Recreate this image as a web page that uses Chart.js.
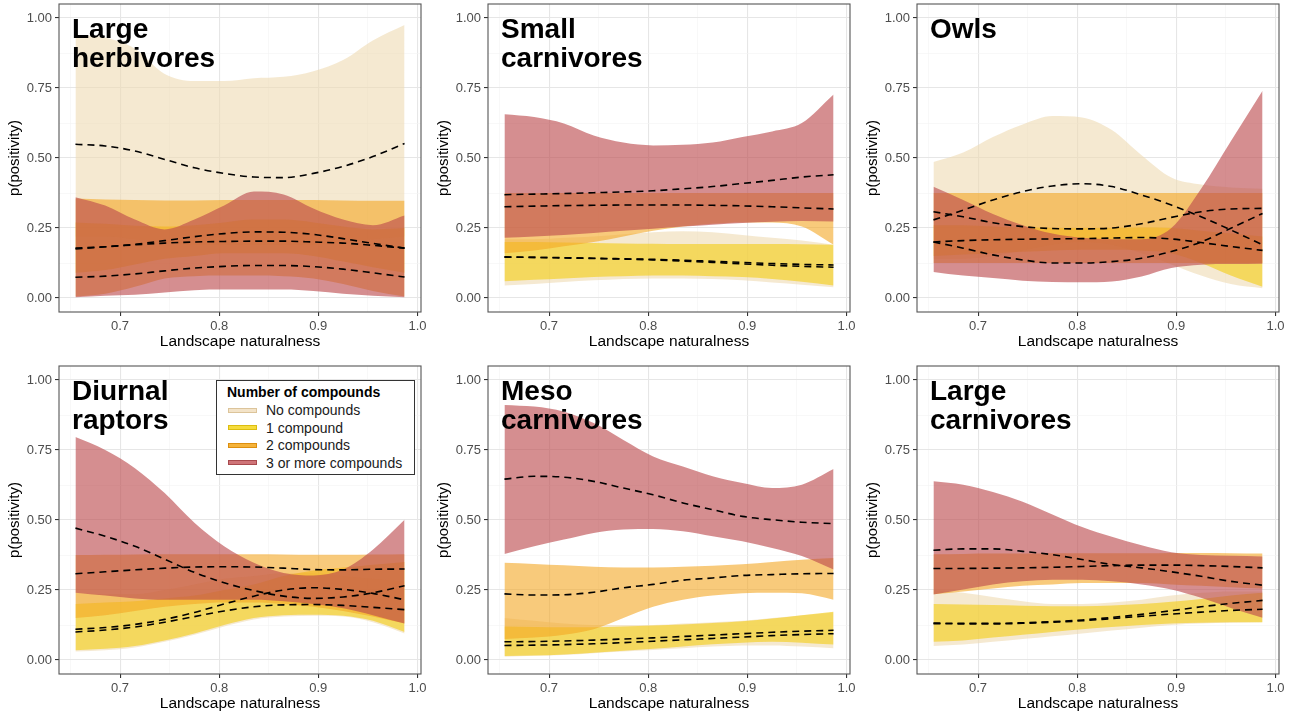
<!DOCTYPE html>
<html>
<head>
<meta charset="utf-8">
<script src="https://cdn.jsdelivr.net/npm/chart.js@4.4.1/dist/chart.umd.min.js"></script>
<style>
  html, body { margin: 0; padding: 0; background: #ffffff; }
  #wrap { position: relative; width: 1295px; height: 715px; overflow: hidden;
          font-family: "Liberation Sans", Arial, Helvetica, sans-serif; }
  .panel { position: absolute; width: 430px; height: 358px; }
  .panel canvas { position: absolute; left: 0; top: 0; }
  .ptitle { position: absolute; font-weight: bold; font-size: 28px; line-height: 29px;
            color: #000; white-space: nowrap; z-index: 2; }
  .legend { position: absolute; box-sizing: border-box; border: 1.3px solid #333;
            background: #fff; z-index: 3; }
  .legend .ltitle { position: absolute; left: 10px; top: 3px; font-weight: bold;
                    font-size: 14px; line-height: 16px; color: #000; white-space: nowrap; }
  .legend .lkey { position: absolute; left: 11px; width: 29px; height: 5px; box-sizing: border-box; }
  .legend .ltext { position: absolute; left: 49px; font-size: 14px; line-height: 16px;
                   color: #1a1a1a; white-space: nowrap; }
</style>
</head>
<body>
<div id="wrap"></div>
<script>
// Sampled landscape naturalness values (x) shared by all fitted curves
const naturalness = [0.655, 0.685, 0.715, 0.745, 0.775, 0.805, 0.835, 0.865, 0.895, 0.925, 0.955, 0.987];

const compoundGroups = ['No compounds', '1 compound', '2 compounds', '3 or more compounds'];

const xTickValues = [0.65, 0.70, 0.75, 0.80, 0.85, 0.90, 0.95, 1.00];
const xTickLabels = ['', '0.7', '', '0.8', '', '0.9', '', '1.0'];
const yTickValues = [0, 0.125, 0.25, 0.375, 0.5, 0.625, 0.75, 0.875, 1];
const yTickLabels = ['0.00', '', '0.25', '', '0.50', '', '0.75', '', '1.00'];

// Large herbivores
const lhNoneLo  = [0.22, 0.22, 0.21, 0.20, 0.19, 0.19, 0.19, 0.19, 0.19, 0.20, 0.21, 0.22];
const lhNoneHi  = [0.94, 0.93, 0.89, 0.80, 0.775, 0.775, 0.785, 0.79, 0.81, 0.85, 0.92, 0.975];
const lhNoneFit = [0.549, 0.543, 0.525, 0.495, 0.465, 0.445, 0.432, 0.43, 0.445, 0.47, 0.505, 0.552];
const lhOneLo   = [0.09, 0.10, 0.12, 0.14, 0.15, 0.16, 0.16, 0.16, 0.15, 0.13, 0.11, 0.09];
const lhOneHi   = [0.27, 0.265, 0.258, 0.255, 0.26, 0.27, 0.28, 0.28, 0.27, 0.255, 0.245, 0.25];
const lhOneFit  = [0.178, 0.183, 0.192, 0.205, 0.219, 0.23, 0.236, 0.235, 0.227, 0.212, 0.195, 0.178];
const lhTwoLo   = [0.005, 0.015, 0.04, 0.07, 0.078, 0.08, 0.08, 0.078, 0.07, 0.05, 0.025, 0.005];
const lhTwoHi   = [0.355, 0.352, 0.35, 0.348, 0.348, 0.35, 0.35, 0.35, 0.35, 0.348, 0.347, 0.347];
const lhTwoFit  = [0.175, 0.183, 0.19, 0.196, 0.2, 0.202, 0.203, 0.203, 0.2, 0.196, 0.188, 0.178];
const lhThreeLo = [0.003, 0.008, 0.012, 0.02, 0.028, 0.03, 0.03, 0.03, 0.025, 0.015, 0.008, 0.003];
const lhThreeHi = [0.36, 0.33, 0.28, 0.245, 0.28, 0.33, 0.38, 0.37, 0.32, 0.28, 0.26, 0.295];
const lhThreeFit = [0.074, 0.078, 0.086, 0.097, 0.107, 0.113, 0.116, 0.116, 0.112, 0.103, 0.09, 0.075];

// Small carnivores
const scNoneLo  = [0.045, 0.05, 0.057, 0.063, 0.068, 0.07, 0.07, 0.068, 0.063, 0.055, 0.047, 0.038];
const scNoneHi  = [0.21, 0.21, 0.215, 0.22, 0.228, 0.235, 0.238, 0.235, 0.225, 0.215, 0.205, 0.19];
const scNoneFit = [0.147, 0.145, 0.143, 0.141, 0.139, 0.136, 0.132, 0.127, 0.122, 0.117, 0.113, 0.11];
const scOneLo   = [0.06, 0.065, 0.07, 0.075, 0.078, 0.08, 0.08, 0.078, 0.075, 0.068, 0.058, 0.045];
const scOneHi   = [0.20, 0.20, 0.198, 0.196, 0.195, 0.194, 0.193, 0.193, 0.193, 0.193, 0.192, 0.19];
const scOneFit  = [0.146, 0.145, 0.144, 0.142, 0.14, 0.138, 0.135, 0.131, 0.127, 0.123, 0.12, 0.118];
const scTwoLo   = [0.16, 0.17, 0.185, 0.20, 0.22, 0.24, 0.255, 0.265, 0.27, 0.27, 0.255, 0.19];
const scTwoHi   = [0.375, 0.375, 0.375, 0.375, 0.375, 0.375, 0.375, 0.375, 0.375, 0.375, 0.375, 0.375];
const scTwoFit  = [0.326, 0.328, 0.33, 0.331, 0.332, 0.332, 0.332, 0.331, 0.329, 0.326, 0.322, 0.318];
const scThreeLo = [0.215, 0.22, 0.225, 0.232, 0.24, 0.247, 0.255, 0.262, 0.268, 0.272, 0.275, 0.273];
const scThreeHi = [0.656, 0.646, 0.623, 0.58, 0.555, 0.545, 0.547, 0.555, 0.575, 0.595, 0.625, 0.727];
const scThreeFit = [0.369, 0.371, 0.373, 0.376, 0.379, 0.383, 0.39, 0.398, 0.409, 0.42, 0.432, 0.44];

// Owls
const owNoneLo  = [0.14, 0.14, 0.15, 0.17, 0.19, 0.20, 0.19, 0.16, 0.12, 0.08, 0.05, 0.035];
const owNoneHi  = [0.486, 0.52, 0.575, 0.62, 0.65, 0.645, 0.60, 0.51, 0.43, 0.405, 0.395, 0.39];
const owNoneFit = [0.279, 0.314, 0.35, 0.38, 0.40, 0.408, 0.398, 0.368, 0.332, 0.29, 0.243, 0.19];
const owOneLo   = [0.15, 0.155, 0.16, 0.165, 0.17, 0.172, 0.172, 0.17, 0.16, 0.125, 0.08, 0.04];
const owOneHi   = [0.26, 0.26, 0.255, 0.252, 0.25, 0.25, 0.25, 0.252, 0.25, 0.24, 0.23, 0.22];
const owOneFit  = [0.20, 0.205, 0.208, 0.21, 0.211, 0.212, 0.214, 0.216, 0.211, 0.198, 0.184, 0.17];
const owTwoLo   = [0.125, 0.125, 0.125, 0.125, 0.125, 0.125, 0.125, 0.125, 0.125, 0.125, 0.125, 0.125];
const owTwoHi   = [0.375, 0.375, 0.375, 0.375, 0.375, 0.375, 0.375, 0.375, 0.375, 0.375, 0.375, 0.375];
const owTwoFit  = [0.308, 0.29, 0.269, 0.255, 0.248, 0.247, 0.25, 0.265, 0.288, 0.308, 0.318, 0.32];
const owThreeLo = [0.093, 0.08, 0.071, 0.062, 0.057, 0.056, 0.059, 0.077, 0.107, 0.119, 0.121, 0.122];
const owThreeHi = [0.397, 0.35, 0.30, 0.26, 0.23, 0.215, 0.21, 0.21, 0.25, 0.39, 0.56, 0.74];
const owThreeFit = [0.20, 0.178, 0.154, 0.136, 0.125, 0.125, 0.13, 0.142, 0.166, 0.20, 0.249, 0.302];

// Diurnal raptors
const drNoneLo  = [0.03, 0.035, 0.045, 0.065, 0.09, 0.12, 0.145, 0.155, 0.158, 0.155, 0.135, 0.095];
const drNoneHi  = [0.24, 0.235, 0.235, 0.25, 0.27, 0.29, 0.30, 0.31, 0.31, 0.30, 0.29, 0.28];
const drNoneFit = [0.10, 0.107, 0.118, 0.135, 0.155, 0.175, 0.19, 0.197, 0.198, 0.195, 0.188, 0.18];
const drOneLo   = [0.035, 0.04, 0.05, 0.07, 0.095, 0.125, 0.15, 0.16, 0.162, 0.158, 0.14, 0.10];
const drOneHi   = [0.20, 0.205, 0.21, 0.22, 0.23, 0.25, 0.27, 0.30, 0.32, 0.33, 0.34, 0.35];
const drOneFit  = [0.11, 0.116, 0.127, 0.145, 0.17, 0.20, 0.228, 0.25, 0.258, 0.252, 0.238, 0.215];
const drTwoLo   = [0.15, 0.16, 0.175, 0.19, 0.20, 0.205, 0.205, 0.20, 0.19, 0.175, 0.155, 0.13];
const drTwoHi   = [0.375, 0.376, 0.377, 0.378, 0.378, 0.378, 0.378, 0.377, 0.376, 0.376, 0.377, 0.378];
const drTwoFit  = [0.308, 0.315, 0.322, 0.328, 0.332, 0.333, 0.332, 0.328, 0.323, 0.322, 0.324, 0.325];
const drThreeLo = [0.24, 0.23, 0.22, 0.215, 0.215, 0.215, 0.215, 0.21, 0.20, 0.185, 0.16, 0.13];
const drThreeHi = [0.796, 0.75, 0.685, 0.596, 0.49, 0.406, 0.347, 0.311, 0.302, 0.323, 0.394, 0.501];
const drThreeFit = [0.471, 0.442, 0.406, 0.36, 0.313, 0.276, 0.248, 0.228, 0.22, 0.225, 0.24, 0.265];

// Meso carnivores
const mcNoneLo  = [0.012, 0.015, 0.018, 0.024, 0.03, 0.036, 0.042, 0.048, 0.052, 0.052, 0.048, 0.042];
const mcNoneHi  = [0.15, 0.14, 0.13, 0.125, 0.125, 0.125, 0.13, 0.135, 0.14, 0.15, 0.16, 0.17];
const mcNoneFit = [0.052, 0.053, 0.055, 0.058, 0.062, 0.067, 0.072, 0.077, 0.082, 0.087, 0.091, 0.094];
const mcOneLo   = [0.014, 0.016, 0.02, 0.026, 0.033, 0.04, 0.048, 0.056, 0.062, 0.065, 0.062, 0.055];
const mcOneHi   = [0.12, 0.118, 0.117, 0.117, 0.12, 0.123, 0.127, 0.132, 0.138, 0.148, 0.16, 0.172];
const mcOneFit  = [0.065, 0.066, 0.068, 0.071, 0.075, 0.079, 0.084, 0.089, 0.094, 0.099, 0.103, 0.106];
const mcTwoLo   = [0.075, 0.08, 0.09, 0.11, 0.15, 0.19, 0.215, 0.23, 0.238, 0.24, 0.238, 0.215];
const mcTwoHi   = [0.347, 0.343, 0.338, 0.333, 0.33, 0.33, 0.333, 0.337, 0.342, 0.35, 0.358, 0.364];
const mcTwoFit  = [0.236, 0.232, 0.233, 0.242, 0.258, 0.27, 0.285, 0.293, 0.302, 0.305, 0.308, 0.309];
const mcThreeLo = [0.379, 0.406, 0.43, 0.454, 0.466, 0.468, 0.46, 0.442, 0.424, 0.40, 0.371, 0.323];
const mcThreeHi = [0.911, 0.905, 0.887, 0.846, 0.786, 0.727, 0.691, 0.656, 0.632, 0.614, 0.626, 0.682];
const mcThreeFit = [0.646, 0.656, 0.653, 0.638, 0.614, 0.59, 0.561, 0.537, 0.513, 0.501, 0.492, 0.487];

// Large carnivores
const lcNoneLo  = [0.05, 0.055, 0.065, 0.075, 0.085, 0.095, 0.105, 0.115, 0.125, 0.13, 0.133, 0.135];
const lcNoneHi  = [0.25, 0.24, 0.225, 0.21, 0.20, 0.20, 0.205, 0.215, 0.23, 0.24, 0.245, 0.245];
const lcNoneFit = [0.13, 0.129, 0.129, 0.131, 0.135, 0.14, 0.148, 0.156, 0.164, 0.171, 0.177, 0.181];
const lcOneLo   = [0.065, 0.07, 0.08, 0.09, 0.10, 0.11, 0.118, 0.125, 0.13, 0.133, 0.135, 0.135];
const lcOneHi   = [0.20, 0.198, 0.196, 0.194, 0.192, 0.192, 0.195, 0.20, 0.208, 0.218, 0.23, 0.24];
const lcOneFit  = [0.132, 0.131, 0.131, 0.133, 0.137, 0.143, 0.152, 0.163, 0.176, 0.19, 0.202, 0.213];
const lcTwoLo   = [0.235, 0.245, 0.255, 0.265, 0.27, 0.275, 0.275, 0.275, 0.27, 0.265, 0.26, 0.255];
const lcTwoHi   = [0.378, 0.379, 0.38, 0.38, 0.381, 0.381, 0.381, 0.381, 0.382, 0.382, 0.381, 0.38];
const lcTwoFit  = [0.327, 0.327, 0.328, 0.329, 0.331, 0.334, 0.337, 0.339, 0.339, 0.337, 0.334, 0.329];
const lcThreeLo = [0.234, 0.252, 0.27, 0.281, 0.287, 0.287, 0.281, 0.27, 0.252, 0.222, 0.186, 0.151];
const lcThreeHi = [0.638, 0.626, 0.60, 0.565, 0.52, 0.475, 0.44, 0.41, 0.385, 0.375, 0.372, 0.37];
const lcThreeFit = [0.392, 0.397, 0.397, 0.388, 0.376, 0.359, 0.341, 0.329, 0.315, 0.299, 0.281, 0.267];

// Panel layout: [lower, upper, fit] per compound group
const panels = [
  { title: ['Large', 'herbivores'], col: 0, row: 0, bands: [
      [lhNoneLo, lhNoneHi, lhNoneFit], [lhOneLo, lhOneHi, lhOneFit],
      [lhTwoLo, lhTwoHi, lhTwoFit], [lhThreeLo, lhThreeHi, lhThreeFit]] },
  { title: ['Small', 'carnivores'], col: 1, row: 0, bands: [
      [scNoneLo, scNoneHi, scNoneFit], [scOneLo, scOneHi, scOneFit],
      [scTwoLo, scTwoHi, scTwoFit], [scThreeLo, scThreeHi, scThreeFit]] },
  { title: ['Owls'], col: 2, row: 0, bands: [
      [owNoneLo, owNoneHi, owNoneFit], [owOneLo, owOneHi, owOneFit],
      [owTwoLo, owTwoHi, owTwoFit], [owThreeLo, owThreeHi, owThreeFit]] },
  { title: ['Diurnal', 'raptors'], col: 0, row: 1, legend: true, bands: [
      [drNoneLo, drNoneHi, drNoneFit], [drOneLo, drOneHi, drOneFit],
      [drTwoLo, drTwoHi, drTwoFit], [drThreeLo, drThreeHi, drThreeFit]] },
  { title: ['Meso', 'carnivores'], col: 1, row: 1, bands: [
      [mcNoneLo, mcNoneHi, mcNoneFit], [mcOneLo, mcOneHi, mcOneFit],
      [mcTwoLo, mcTwoHi, mcTwoFit], [mcThreeLo, mcThreeHi, mcThreeFit]] },
  { title: ['Large', 'carnivores'], col: 2, row: 1, bands: [
      [lcNoneLo, lcNoneHi, lcNoneFit], [lcOneLo, lcOneHi, lcOneFit],
      [lcTwoLo, lcTwoHi, lcTwoFit], [lcThreeLo, lcThreeHi, lcThreeFit]] }
];

// Styling
const FONT = '"Liberation Sans", Arial, Helvetica, sans-serif';
const bandFill = ['rgba(238,218,178,0.6)', 'rgba(244,205,25,0.62)', 'rgba(243,166,35,0.6)', 'rgba(188,72,76,0.62)'];
const keyFill = ['#f3e3c8', '#f6dc3c', '#f5b33a', '#cf7478'];
const keyEdge = ['#dcc49a', '#dcbd10', '#dc8f10', '#a84a4e'];
const colLeft = [59, 488, 917];   // plot-area left edge per column
const rowTop = [4, 366];          // plot-area top edge per row
const AXIS_W = 59, AXIS_H = 46, PLOT_W = 362, PLOT_H = 308;

const panelBorder = {
  id: 'panelBorder',
  afterDraw(chart) {
    const { ctx, chartArea: a } = chart;
    ctx.save();
    ctx.strokeStyle = '#555555';
    ctx.lineWidth = 1.1;
    ctx.strokeRect(a.left, a.top, a.right - a.left, a.bottom - a.top);
    ctx.restore();
  }
};

function toPoints(values) {
  return naturalness.map((x, i) => ({ x: x, y: values[i] }));
}

function buildDatasets(bands) {
  const ds = [];
  bands.forEach((b, g) => {
    ds.push({
      label: compoundGroups[g] + ' upper', data: toPoints(b[1]),
      fill: '+1', backgroundColor: bandFill[g], borderColor: 'rgba(0,0,0,0)', borderWidth: 0,
      pointRadius: 0, cubicInterpolationMode: 'monotone', order: 4 - g
    });
    ds.push({
      label: compoundGroups[g] + ' lower', data: toPoints(b[0]),
      fill: false, borderColor: 'rgba(0,0,0,0)', borderWidth: 0,
      pointRadius: 0, cubicInterpolationMode: 'monotone', order: 4 - g
    });
  });
  bands.forEach((b, g) => {
    ds.push({
      label: compoundGroups[g], data: toPoints(b[2]),
      fill: false, borderColor: '#000000', borderWidth: 1.6, borderDash: [7, 5],
      pointRadius: 0, cubicInterpolationMode: 'monotone', order: 0
    });
  });
  return ds;
}

const isMajorX = (i) => xTickLabels[i] !== '';
const isMajorY = (i) => yTickLabels[i] !== '';

function makeChart(p) {
  const wrap = document.getElementById('wrap');
  const box = document.createElement('div');
  box.className = 'panel';
  box.style.left = (colLeft[p.col] - AXIS_W) + 'px';
  box.style.top = (rowTop[p.row] - 4) + 'px';
  const canvas = document.createElement('canvas');
  canvas.width = 430; canvas.height = 358;
  box.appendChild(canvas);
  wrap.appendChild(box);

  new Chart(canvas.getContext('2d'), {
    type: 'line',
    data: { datasets: buildDatasets(p.bands) },
    plugins: [panelBorder],
    options: {
      responsive: false, animation: false, devicePixelRatio: 1,
      layout: { padding: { left: 0, top: 4, right: 430 - AXIS_W - PLOT_W, bottom: 0 } },
      plugins: { legend: { display: false }, tooltip: { enabled: false } },
      scales: {
        x: {
          type: 'linear', min: 0.6384, max: 1.0036,
          afterBuildTicks(s) { s.ticks = xTickValues.map(v => ({ value: v })); },
          afterFit(s) { s.height = AXIS_H; s.paddingLeft = 0; s.paddingRight = 0; },
          ticks: { autoSkip: false, maxRotation: 0, padding: 3, color: '#4d4d4d',
                   font: { family: FONT, size: 13 },
                   callback: (v, i) => xTickLabels[i] },
          grid: {
            color: c => isMajorX(c.index) ? '#e6e6e6' : '#f3f3f3',
            lineWidth: c => isMajorX(c.index) ? 1.1 : 0.6,
            tickColor: c => isMajorX(c.index) ? '#333333' : 'rgba(0,0,0,0)',
            tickLength: 4, drawTicks: true
          },
          border: { display: false },
          title: { display: true, text: 'Landscape naturalness', color: '#000',
                   font: { family: FONT, size: 15.5 }, padding: { top: 0, bottom: 7 } }
        },
        y: {
          type: 'linear', min: -0.05, max: 1.05,
          afterBuildTicks(s) { s.ticks = yTickValues.map(v => ({ value: v })); },
          afterFit(s) { s.width = AXIS_W; s.paddingTop = 0; s.paddingBottom = 0; },
          ticks: { autoSkip: false, padding: 3, color: '#4d4d4d',
                   font: { family: FONT, size: 13 },
                   callback: (v, i) => yTickLabels[i] },
          grid: {
            color: c => isMajorY(c.index) ? '#e6e6e6' : '#f3f3f3',
            lineWidth: c => isMajorY(c.index) ? 1.1 : 0.6,
            tickColor: c => isMajorY(c.index) ? '#333333' : 'rgba(0,0,0,0)',
            tickLength: 4, drawTicks: true
          },
          border: { display: false },
          title: { display: true, text: 'p(positivity)', color: '#000',
                   font: { family: FONT, size: 15 }, padding: { top: 6, bottom: 0 } }
        }
      }
    }
  });

  // Panel heading inside the plot area
  const t = document.createElement('div');
  t.className = 'ptitle';
  t.style.left = (colLeft[p.col] + 13) + 'px';
  t.style.top = (rowTop[p.row] + 10) + 'px';
  t.innerHTML = p.title.join('<br>');
  wrap.appendChild(t);

  if (p.legend) {
    const lg = document.createElement('div');
    lg.className = 'legend';
    lg.style.left = (colLeft[p.col] + 157) + 'px';
    lg.style.top = (rowTop[p.row] + 14) + 'px';
    lg.style.width = '199px';
    lg.style.height = '95px';
    let html = '<div class="ltitle">Number of compounds</div>';
    compoundGroups.forEach((name, g) => {
      const cy = 29 + g * 17.5;
      html += '<div class="lkey" style="top:' + (cy - 2.5) + 'px;background:' + keyFill[g] +
              ';border:1px solid ' + keyEdge[g] + '"></div>';
      html += '<div class="ltext" style="top:' + (cy - 8) + 'px">' + name + '</div>';
    });
    lg.innerHTML = html;
    wrap.appendChild(lg);
  }
}

panels.forEach(makeChart);
</script>
</body>
</html>
